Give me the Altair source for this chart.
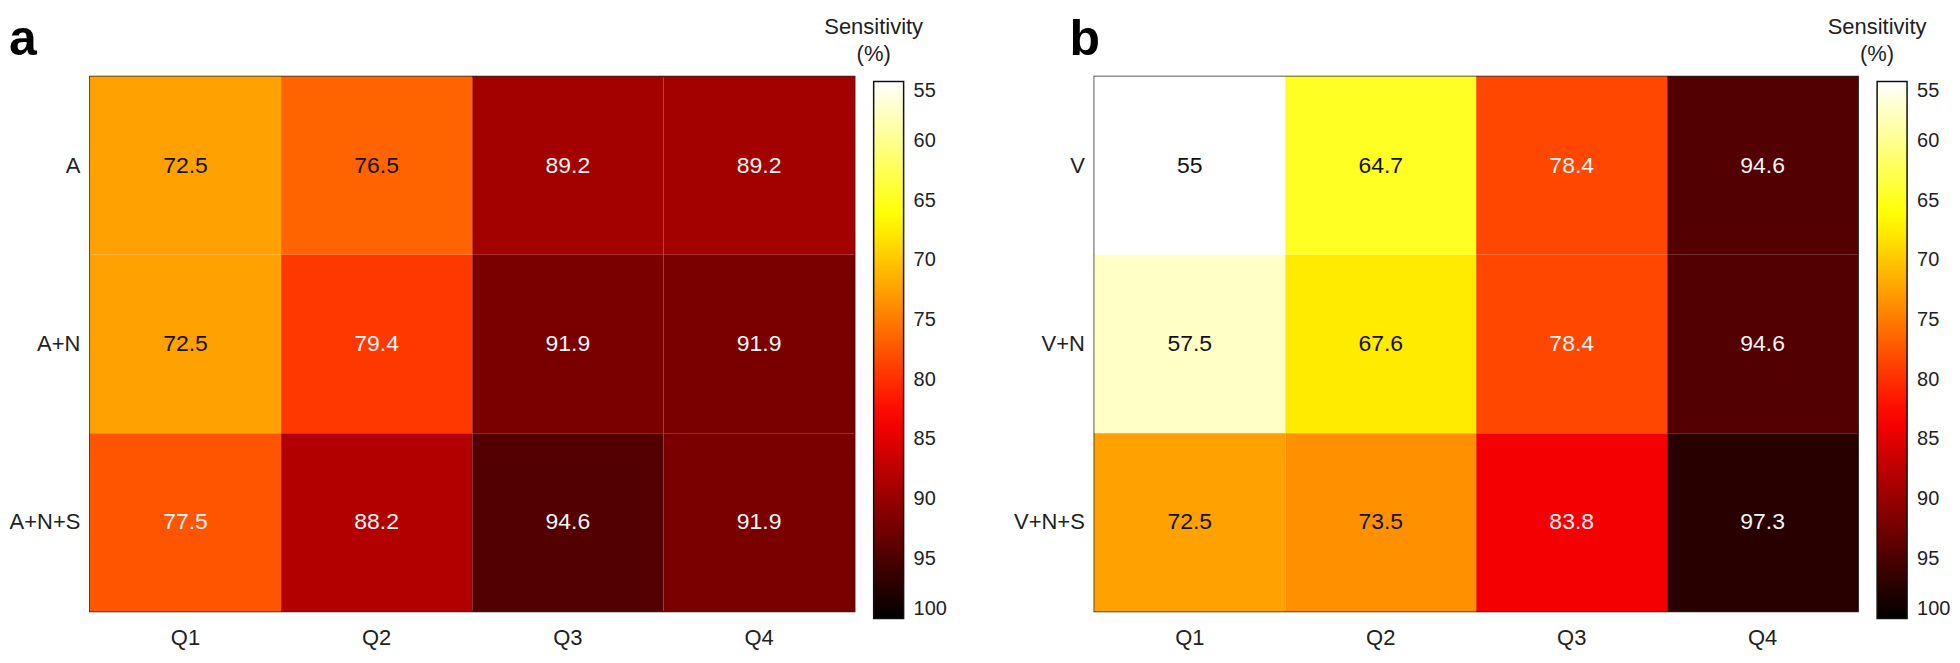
import altair as alt
import pandas as pd

FONT = "Liberation Sans"

quarters = ["Q1", "Q2", "Q3", "Q4"]

rows_a = ["A", "A+N", "A+N+S"]
a_A = [72.5, 76.5, 89.2, 89.2]
a_AN = [72.5, 79.4, 91.9, 91.9]
a_ANS = [77.5, 88.2, 94.6, 91.9]

rows_b = ["V", "V+N", "V+N+S"]
b_V = [55, 64.7, 78.4, 94.6]
b_VN = [57.5, 67.6, 78.4, 94.6]
b_VNS = [72.5, 73.5, 83.8, 97.3]

# MATLAB "hot" colormap, reversed, over 55..100
hot_stops = [100, 83.125, 66.25, 55]
hot_colors = ["#000000", "#ff0000", "#ffff00", "#ffffff"]
legend_ticks = [55, 60, 65, 70, 75, 80, 85, 90, 95, 100]


def make_df(rows, series):
    recs = []
    for r, vals in zip(rows, series):
        for q, v in zip(quarters, vals):
            recs.append({"q": q, "row": r, "value": v})
    return pd.DataFrame(recs)


def panel(rows, series, letter, dx, w, h):
    df = make_df(rows, series)
    base = alt.Chart(df)
    x = alt.X("q:N", sort=quarters,
              axis=alt.Axis(title=None, labelAngle=0, ticks=False, domain=False,
                            labelFontSize=22, labelPadding=16, labelFont=FONT,
                            labelColor="#222"))
    y = alt.Y("row:N", sort=rows,
              axis=alt.Axis(title=None, ticks=False, domain=False,
                            labelFontSize=22, labelPadding=10, labelFont=FONT,
                            labelColor="#222"))
    rect = base.mark_rect().encode(
        x=x, y=y,
        color=alt.Color(
            "value:Q",
            scale=alt.Scale(domain=hot_stops, range=hot_colors, interpolate="rgb", nice=False),
            legend=alt.Legend(
                orient="none", legendX=w - 31, legendY=-59, direction="vertical",
                gradientLength=h + 2, gradientThickness=30,
                gradientStrokeColor="#111", gradientStrokeWidth=1.5,
                values=legend_ticks,
                title=["Sensitivity", "(%)"], titleFontSize=22, titleFontWeight="normal",
                titleFont=FONT, titleColor="#222", titleLineHeight=27,
                titleAnchor="start", titleAlign="center", titlePadding=15,
                labelFontSize=20, labelFont=FONT, labelColor="#222", labelOffset=10,
                padding=0,
            ),
        ),
    )
    text = base.mark_text(fontSize=23, font=FONT).encode(
        x=x, y=y,
        text=alt.Text("value:Q", format="~g"),
        color=alt.condition("datum.value > 77", alt.value("#f5f5f5"), alt.value("#111")),
    )
    return alt.layer(rect, text).properties(
        width=w, height=h,
        title=alt.TitleParams(letter, anchor="start", frame="bounds", fontSize=50,
                              fontWeight="bold", font=FONT, color="#000",
                              offset=-48, dx=dx),
    )


pa = panel(rows_a, [a_A, a_AN, a_ANS], "a", 0, 766, 536)
pb = panel(rows_b, [b_V, b_VN, b_VNS], "b", 56, 765, 536)

chart = (
    alt.hconcat(pa, pb, spacing=64)
    .resolve_scale(color="independent")
    .properties(padding={"left": 0, "top": 6, "right": 0, "bottom": 0})
    .configure_view(stroke="#222", strokeWidth=1.5)
    .configure_legend(gradientVerticalMaxLength=800)
)

chart.save("out.html", embed_options={"renderer": "svg", "actions": False})
